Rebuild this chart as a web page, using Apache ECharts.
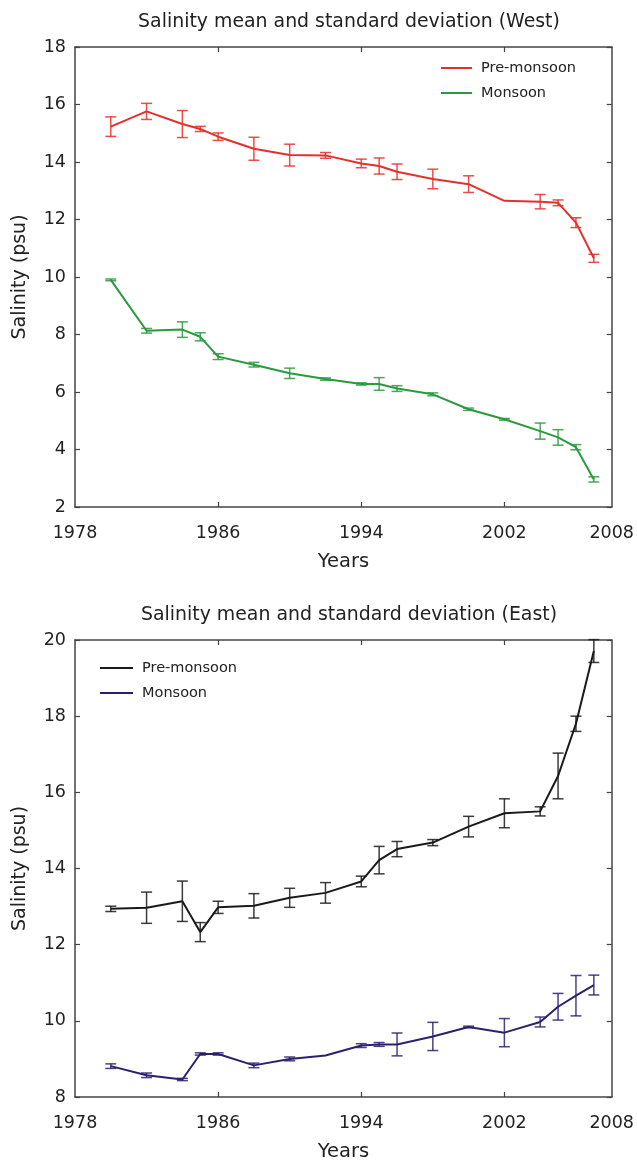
<!DOCTYPE html>
<html>
<head>
<meta charset="utf-8">
<script src="https://cdn.jsdelivr.net/npm/echarts@6/dist/echarts.min.js"></script>
<style>
html,body{margin:0;padding:0;background:#fff;}
#c{width:637px;height:1163px;}
</style>
</head>
<body>
<div id="c"></div>
<script>
// ---- data ----
var years = [1980,1982,1984,1985,1986,1988,1990,1992,1994,1995,1996,1998,2000,2002,2004,2005,2006,2007];
var westPre   = [15.23,15.76,15.32,15.15,14.88,14.46,14.24,14.23,13.95,13.86,13.66,13.41,13.23,12.65,12.62,12.58,11.89,10.65];
var westPreSD = [0.34,0.28,0.47,0.09,0.13,0.40,0.38,0.10,0.15,0.28,0.27,0.34,0.29,0.00,0.25,0.10,0.17,0.14];
var westMon   = [9.90,8.13,8.17,7.92,7.23,6.95,6.65,6.45,6.28,6.28,6.12,5.92,5.40,5.05,4.64,4.42,4.08,2.96];
var westMonSD = [0.03,0.08,0.27,0.14,0.10,0.08,0.18,0.04,0.04,0.22,0.10,0.05,0.04,0.03,0.28,0.27,0.09,0.09];
var eastPre   = [12.94,12.97,13.14,12.33,12.98,13.02,13.23,13.36,13.66,14.22,14.51,14.68,15.10,15.45,15.50,16.43,17.80,19.71];
var eastPreSD = [0.07,0.41,0.53,0.25,0.16,0.32,0.25,0.27,0.14,0.36,0.20,0.08,0.27,0.38,0.12,0.60,0.20,0.30];
var eastMon   = [8.81,8.57,8.46,9.13,9.13,8.83,9.00,9.09,9.35,9.38,9.38,9.59,9.84,9.69,9.97,10.37,10.66,10.94];
var eastMonSD = [0.06,0.06,0.03,0.03,0.03,0.06,0.05,0.00,0.05,0.05,0.30,0.37,0.02,0.37,0.13,0.35,0.53,0.26];
var xTickLabels = [1978,1986,1994,2002,2008];
var titles = ['Salinity mean and standard deviation (West)','Salinity mean and standard deviation (East)'];
var legendNames = {WP:'Pre-monsoon', WM:'Monsoon', EP:'Pre-monsoon', EM:'Monsoon'};

// ---- styling ----
var FONT = '"DejaVu Sans", "Liberation Sans", Arial, sans-serif';
var TXT = '#222';
var AX = '#444';
var C = {WP:'#e4302a', WM:'#2a9a3c', EP:'#1a1a1a', EM:'#2b2070'};

function pairs(ys){ return years.map(function(x,i){return [x, ys[i]];}); }
function errData(ys, sds){ return years.map(function(x,i){return [x, ys[i]-sds[i], ys[i]+sds[i]];}); }

function lineSeries(key, ys, gi){
  return {type:'line', name:key, xAxisIndex:gi*2, yAxisIndex:gi*2, data:pairs(ys),
    symbol:'none', lineStyle:{color:C[key], width:2}, itemStyle:{color:C[key]}, z:3};
}
function errSeries(key, ys, sds, gi){
  var col = C[key];
  return {type:'custom', name:key+'_err', xAxisIndex:gi*2, yAxisIndex:gi*2,
    data:errData(ys, sds), encode:{x:0, y:[1,2]}, z:2,
    renderItem:function(params, api){
      var x = api.value(0), lo = api.value(1), hi = api.value(2);
      if (!(hi - lo > 0)) return;
      var a = api.coord([x, lo]), b = api.coord([x, hi]);
      var w = 5.5;
      var st = {stroke:col, lineWidth:1.5, opacity:0.85};
      return {type:'group', children:[
        {type:'line', shape:{x1:a[0], y1:a[1], x2:b[0], y2:b[1]}, style:st},
        {type:'line', shape:{x1:a[0]-w, y1:a[1], x2:a[0]+w, y2:a[1]}, style:st},
        {type:'line', shape:{x1:b[0]-w, y1:b[1], x2:b[0]+w, y2:b[1]}, style:st}
      ]};
    }
  };
}

function xAxes(gi){
  var base = {type:'value', gridIndex:gi, min:1978, max:2008, splitLine:{show:false},
    axisLine:{show:true, onZero:false, lineStyle:{color:AX, width:1.5}},
    axisTick:{show:true, inside:true, length:5, lineStyle:{color:AX, width:1.2}, customValues:[1986,1994,2002]}};
  var bottom = Object.assign({}, base, {position:'bottom',
    axisLabel:{show:true, customValues:xTickLabels, fontSize:17.5, color:TXT, fontFamily:FONT, margin:17,
      formatter:function(v){return String(v);}},
    name:'Years', nameLocation:'middle', nameGap:45,
    nameTextStyle:{fontSize:19.5, color:TXT, fontFamily:FONT}});
  var top = Object.assign({}, base, {position:'top', axisLabel:{show:false}});
  return [bottom, top];
}
function yAxes(gi, min, max){
  var base = {type:'value', gridIndex:gi, min:min, max:max, interval:2, splitLine:{show:false},
    axisLine:{show:true, onZero:false, lineStyle:{color:AX, width:1.5}},
    axisTick:{show:true, inside:true, length:5, lineStyle:{color:AX, width:1.2}}};
  var left = Object.assign({}, base, {position:'left',
    axisLabel:{show:true, fontSize:17.5, color:TXT, fontFamily:FONT, margin:9},
    name:'Salinity (psu)', nameLocation:'middle', nameGap:45,
    nameTextStyle:{fontSize:19, color:TXT, fontFamily:FONT}});
  var right = Object.assign({}, base, {position:'right', axisLabel:{show:false}});
  return [left, right];
}

var legendBase = {orient:'vertical', icon:'rect', itemHeight:2, itemGap:7,
  formatter:function(n){return legendNames[n];},
  textStyle:{fontSize:14.5, lineHeight:18, color:TXT, fontFamily:FONT, padding:[0,0,0,4]}};

var option = {
  animation:false,
  backgroundColor:'#fff',
  title:[
    {text:titles[0], left:344, top:8, textAlign:'center', textStyle:{fontSize:18.9, fontWeight:'normal', color:TXT, fontFamily:FONT}},
    {text:titles[1], left:344, top:601, textAlign:'center', textStyle:{fontSize:18.9, fontWeight:'normal', color:TXT, fontFamily:FONT}}
  ],
  grid:[
    {left:75, right:25, top:47, height:460},
    {left:75, right:25, top:640, height:458}
  ],
  legend:[
    Object.assign({}, legendBase, {data:['WP','WM'], left:436, top:54, itemWidth:31}),
    Object.assign({}, legendBase, {data:['EP','EM'], left:95, top:654, itemWidth:33})
  ],
  xAxis: xAxes(0).concat(xAxes(1)),
  yAxis: yAxes(0, 2, 18).concat(yAxes(1, 8, 20)),
  series:[
    errSeries('WP', westPre, westPreSD, 0),
    errSeries('WM', westMon, westMonSD, 0),
    lineSeries('WP', westPre, 0),
    lineSeries('WM', westMon, 0),
    errSeries('EP', eastPre, eastPreSD, 1),
    errSeries('EM', eastMon, eastMonSD, 1),
    lineSeries('EP', eastPre, 1),
    lineSeries('EM', eastMon, 1)
  ]
};
var chart = echarts.init(document.getElementById('c'), null, {renderer:'canvas'});
chart.setOption(option);
</script>
</body>
</html>
